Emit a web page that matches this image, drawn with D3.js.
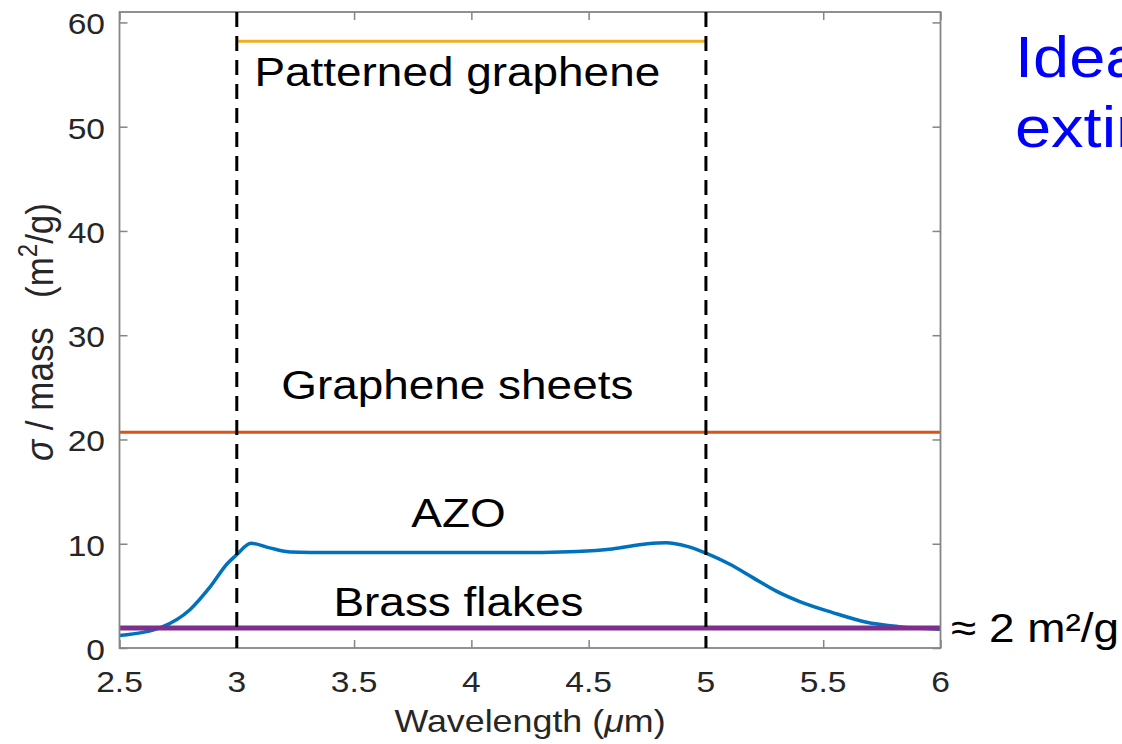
<!DOCTYPE html>
<html>
<head>
<meta charset="utf-8">
<script src="https://cdn.jsdelivr.net/npm/d3@7"></script>
<style>
  html, body { margin: 0; padding: 0; background: #fff; }
  svg { display: block; }
  text { font-family: "Liberation Sans", Arial, Helvetica, sans-serif; white-space: pre; }
</style>
</head>
<body>
<svg id="chart" width="1122" height="744"></svg>
<script>
// Extinction cross-section per mass vs wavelength
const xTicks = [2.5, 3, 3.5, 4, 4.5, 5, 5.5, 6];
const xTickLabels = ["2.5", "3", "3.5", "4", "4.5", "5", "5.5", "6"];
const yTicks = [0, 10, 20, 30, 40, 50, 60];
const yTickLabels = ["0", "10", "20", "30", "40", "50", "60"];

// AZO spectrum (m^2/g)
const azoWavelength = [2.5, 2.6, 2.675, 2.8, 2.887, 2.96, 3.0, 3.06, 3.14, 3.23, 3.4, 3.7, 4.0, 4.3, 4.45, 4.6, 4.75, 4.83, 4.92, 5.0, 5.1, 5.2, 5.3, 5.4, 5.54, 5.68, 5.82, 6.0];
const azoSigma      = [1.2, 1.5, 1.95, 3.67, 5.88, 8.1, 8.95, 10.05, 9.6, 9.2, 9.15, 9.15, 9.15, 9.17, 9.25, 9.5, 10.0, 10.1, 9.75, 9.1, 8.05, 6.75, 5.45, 4.45, 3.4, 2.5, 2.05, 1.8];

// Flat reference levels
const flatNames  = ["Patterned graphene", "Graphene sheets", "Brass flakes"];
const flatValues = [58.2, 20.7, 1.93];
const flatStart  = [3, 2.5, 2.5];
const flatEnd    = [5, 6, 6];

// Band edges of the target window
const bandEdges = [3, 5];

// Curve labels: text, x (μm), y (m^2/g)
const labelTexts = ["Patterned graphene", "Graphene sheets", "AZO", "Brass flakes"];
const labelX     = [3.94, 3.94, 3.945, 3.945];
const labelY     = [53.9, 23.9, 11.6, 3.10];

const svg = d3.select("#chart");
const padL = 119.5, padR = 940.5, padT = 12, padB = 648;
const sx = 1.12; // horizontal glyph stretch

const x = d3.scaleLinear().domain([2.5, 6]).range([padL, padR]);
const y = d3.scaleLinear().domain([0, 61]).range([padB, padT]);

const axisGray = "#858585";
const textGray = "#262626";

// clip for plot area
svg.append("defs").append("clipPath").attr("id", "plotClip")
  .append("rect").attr("x", padL).attr("y", padT)
  .attr("width", padR - padL).attr("height", padB - padT);

const plot = svg.append("g").attr("clip-path", "url(#plotClip)");

// Axes (inward ticks on all sides)
const tickLen = 8;
const gx = svg.append("g").attr("transform", `translate(0,${padB})`)
  .call(d3.axisBottom(x).tickValues(xTicks).tickSize(-tickLen).tickFormat(""));
const gxTop = svg.append("g").attr("transform", `translate(0,${padT})`)
  .call(d3.axisTop(x).tickValues(xTicks).tickSize(-tickLen).tickFormat(""));
const gy = svg.append("g").attr("transform", `translate(${padL},0)`)
  .call(d3.axisLeft(y).tickValues(yTicks).tickSize(-tickLen).tickFormat(""));
const gyR = svg.append("g").attr("transform", `translate(${padR},0)`)
  .call(d3.axisRight(y).tickValues(yTicks).tickSize(-tickLen).tickFormat(""));
[gx, gxTop, gy, gyR].forEach(g => {
  g.selectAll("path.domain").remove();
  g.selectAll("line").attr("stroke", axisGray).attr("stroke-width", 1.5);
});

// Box
svg.append("rect").attr("x", padL).attr("y", padT)
  .attr("width", padR - padL).attr("height", padB - padT)
  .attr("fill", "none").attr("stroke", axisGray).attr("stroke-width", 1.8);

function stretchedText(parent, tx, ty, str, opts) {
  const g = parent.append("g").attr("transform", `translate(${tx},${ty}) scale(${sx},1)${opts.rotate ? " rotate(" + opts.rotate + ")" : ""}`);
  const t = g.append("text")
    .attr("text-anchor", opts.anchor || "middle")
    .attr("font-size", opts.size)
    .attr("fill", opts.fill || "#000");
  if (str !== null) t.text(str);
  return t;
}

// Tick labels
xTicks.forEach((v, i) => {
  stretchedText(svg, x(v), 692, xTickLabels[i], { size: 30, fill: textGray });
});
yTicks.forEach((v, i) => {
  stretchedText(svg, 105, y(v) + 12, yTickLabels[i], { size: 30, fill: textGray, anchor: "end" });
});

// Axis labels
const xl = stretchedText(svg, x(4.25), 732, null, { size: 32, fill: textGray });
xl.append("tspan").text("Wavelength (");
xl.append("tspan").attr("font-style", "italic").text("μ");
xl.append("tspan").text("m)");

const yl = stretchedText(svg, 53, 332, null, { size: 35, fill: textGray, rotate: -90 });
yl.append("tspan").attr("font-style", "italic").text("σ");
yl.append("tspan").text(" / mass   (m");
yl.append("tspan").attr("font-size", 24).attr("dy", -14).text("2");
yl.append("tspan").attr("dy", 14).text("/g)");

// Flat levels and AZO curve; brass level sits on top of the AZO line
const flatColors = ["#EDB120", "#D95319", "#7E2F8E"];
const flatWidths = [3, 3, 5];
function drawFlat(i) {
  plot.append("line")
    .attr("x1", x(flatStart[i])).attr("x2", x(flatEnd[i]))
    .attr("y1", y(flatValues[i])).attr("y2", y(flatValues[i]))
    .attr("stroke", flatColors[i]).attr("stroke-width", flatWidths[i]);
}
drawFlat(0);
drawFlat(1);

const azo = azoWavelength.map((w, i) => [w, azoSigma[i]]);
plot.append("path")
  .datum(azo)
  .attr("fill", "none")
  .attr("stroke", "#0072BD")
  .attr("stroke-width", 3.5)
  .attr("d", d3.line().x(d => x(d[0])).y(d => y(d[1])).curve(d3.curveMonotoneX));

drawFlat(2);

// Band edges
bandEdges.forEach(b => {
  svg.append("line")
    .attr("x1", x(b)).attr("x2", x(b))
    .attr("y1", padT).attr("y2", padB)
    .attr("stroke", "#000").attr("stroke-width", 3)
    .attr("stroke-dasharray", "15,9");
});

// Curve labels
labelTexts.forEach((t, i) => {
  stretchedText(svg, x(labelX[i]), y(labelY[i]), t, { size: 41 });
});

// Right-side annotations
stretchedText(svg, 951, 642, "≈ 2 m²/g", { size: 41, anchor: "start" });
stretchedText(svg, 1015, 77, "Ideal", { size: 58, anchor: "start", fill: "#0000FF" });
stretchedText(svg, 1015, 147, "extinction", { size: 58, anchor: "start", fill: "#0000FF" });
</script>
</body>
</html>
